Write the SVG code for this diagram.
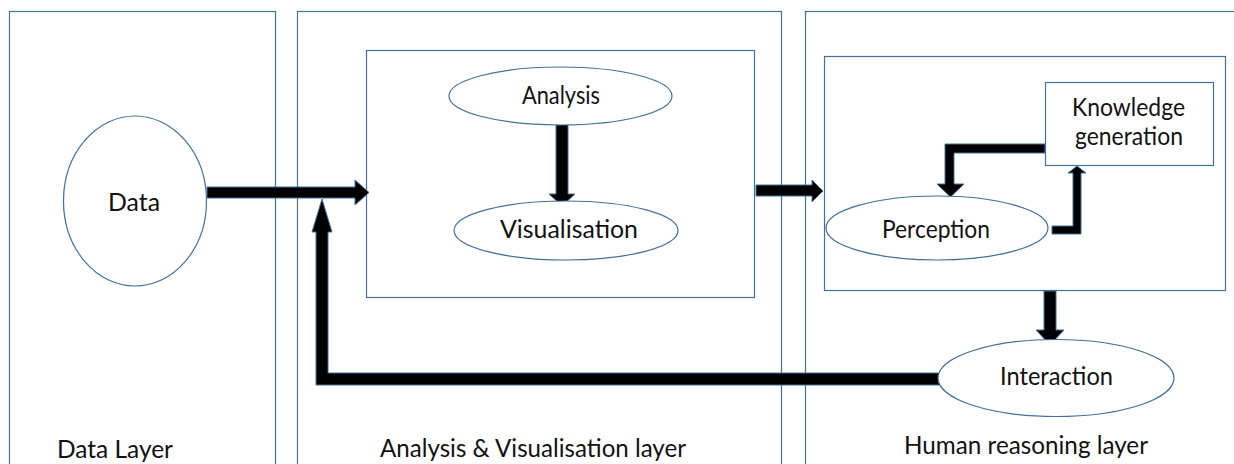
<svg xmlns="http://www.w3.org/2000/svg" width="1234" height="464" viewBox="0 0 1234 464">
<style>
.box{fill:#fff;stroke:#41719c;stroke-width:1.2}
.ell{fill:#fff;stroke:#41719c;stroke-width:1.2}
.arr{fill:#000;stroke:#41719c;stroke-width:1}
.t{font-family:Lato,"Liberation Sans",sans-serif;font-size:25px;fill:#111;text-anchor:middle}
</style>
<rect width="1234" height="464" fill="#fff"/>
<g id="data-layer">
<rect class="box" x="9.5" y="11.5" width="266" height="470"/>
<text class="t" x="115" y="458" textLength="116" lengthAdjust="spacingAndGlyphs">Data Layer</text>
</g>
<g id="analysis-layer">
<rect class="box" x="297.5" y="11.5" width="484" height="470"/>
<rect class="box" x="366.5" y="50.5" width="388" height="247"/>
<text class="t" x="533" y="457" textLength="306" lengthAdjust="spacingAndGlyphs">Analysis &amp; Visualisation layer</text>
</g>
<g id="human-layer">
<rect class="box" x="805.5" y="11.5" width="440" height="470"/>
<rect class="box" x="824.5" y="56.5" width="401" height="234"/>
<text class="t" x="1026" y="454" textLength="244" lengthAdjust="spacingAndGlyphs">Human reasoning layer</text>
</g>
<g id="connectors">
<polygon class="arr" points="207,187 355,187 355,180 369,192.5 355,205 355,198 207,198"/>
<polygon class="arr" points="940,373 328,373 328,232 332,232 322,199 312,232 316,232 316,385 940,385"/>
<polygon class="arr" points="556,124 568,124 568,194 575,194 562,206 549,194 556,194"/>
<polygon class="arr" points="756,185 812,185 812,180 823,191 812,202 812,196 756,196"/>
<polygon class="arr" points="1045,144 945,144 945,184 937,184 950.5,197 964,184 954,184 954,153 1045,153"/>
<polygon class="arr" points="1052,226 1073,226 1073,173 1068,173 1077,166 1086,173 1081,173 1081,234 1052,234"/>
<polygon class="arr" points="1044,291 1056,291 1056,330 1064,330 1050,345 1036,330 1044,330"/>
</g>
<g id="node-data">
<ellipse class="ell" cx="135" cy="201" rx="71.5" ry="85"/>
<text class="t" x="134" y="211" textLength="52" lengthAdjust="spacingAndGlyphs">Data</text>
</g>
<g id="node-analysis">
<ellipse class="ell" cx="560.5" cy="96" rx="111.5" ry="29"/>
<text class="t" x="561" y="104" textLength="78" lengthAdjust="spacingAndGlyphs">Analysis</text>
</g>
<g id="node-visualisation">
<ellipse class="ell" cx="566" cy="230.5" rx="112" ry="29.5"/>
<text class="t" x="569" y="238" textLength="138" lengthAdjust="spacingAndGlyphs">Visualisation</text>
</g>
<g id="node-knowledge">
<rect class="box" x="1045.5" y="82.5" width="168" height="83"/>
<text class="t" x="1128.5" y="116" textLength="113" lengthAdjust="spacingAndGlyphs">Knowledge</text>
<text class="t" x="1129" y="145" textLength="108" lengthAdjust="spacingAndGlyphs">generation</text>
</g>
<g id="node-perception">
<ellipse class="ell" cx="937" cy="228" rx="111" ry="32"/>
<text class="t" x="936" y="238" textLength="108" lengthAdjust="spacingAndGlyphs">Perception</text>
</g>
<g id="node-interaction">
<ellipse class="ell" cx="1056" cy="378" rx="118" ry="38.5"/>
<text class="t" x="1056.5" y="385" textLength="113" lengthAdjust="spacingAndGlyphs">Interaction</text>
</g>
</svg>
